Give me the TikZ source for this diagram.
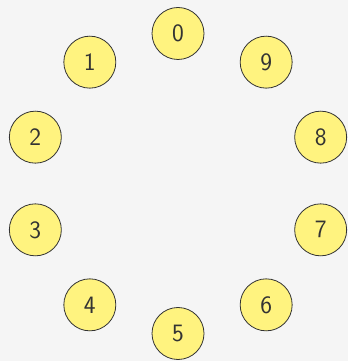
\documentclass[tikz,border=0pt]{standalone}
\usepackage{fontspec}
\usetikzlibrary{calc}
\definecolor{bgc}{HTML}{F5F5F5}
\definecolor{nodefill}{HTML}{FFF37F}
\definecolor{edgec}{HTML}{333333}
\tikzset{
  numnode/.style={circle, draw=edgec, line width=0.8pt, fill=nodefill, minimum size=52pt, inner sep=0pt,
    text=edgec, font=\sffamily\fontsize{25}{25}\selectfont}
}
\begin{document}
\begin{tikzpicture}[x=1pt,y=1pt]
\fill[bgc] (0,0) rectangle (348,361);
\useasboundingbox (0,0) rectangle (348,361);
\coordinate (c) at (178,177.5);
\foreach \i in {0,...,9} {
  \pgfmathsetmacro{\ang}{90+36*\i}
  \node[numnode] (n\i) at ($(c)+(\ang:150)$) {\i};
}
\end{tikzpicture}
\end{document}
